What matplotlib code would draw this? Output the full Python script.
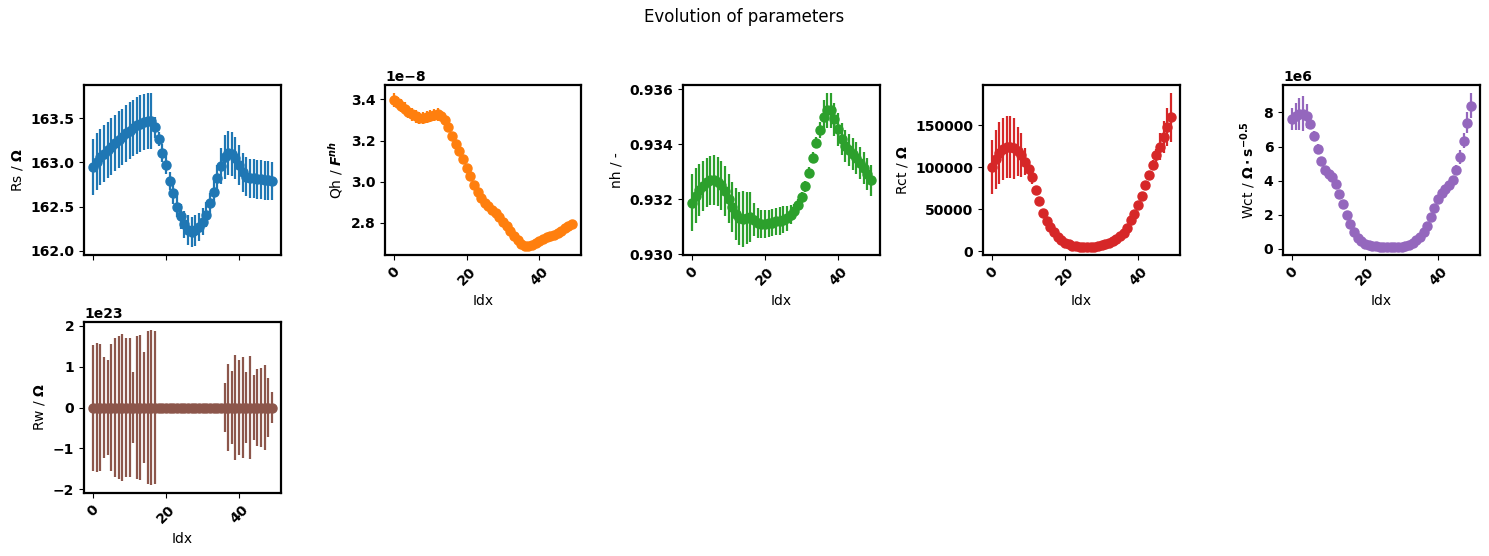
import numpy as np
import matplotlib
matplotlib.use("Agg")
import matplotlib.pyplot as plt

idx = list(range(50))

rs = [162.95, 163.01, 163.06, 163.10, 163.14, 163.18, 163.22, 163.26, 163.29, 163.33,
      163.36, 163.39, 163.42, 163.44, 163.46, 163.47, 163.47, 163.40, 163.27, 163.11,
      162.97, 162.79, 162.65, 162.50, 162.39, 162.30, 162.24, 162.21, 162.23, 162.27,
      162.33, 162.41, 162.54, 162.67, 162.82, 162.96, 163.06, 163.11, 163.10, 163.05,
      162.97, 162.89, 162.84, 162.82, 162.82, 162.81, 162.81, 162.80, 162.80, 162.79]
rs_err = [0.32, 0.32, 0.32, 0.32, 0.32, 0.32, 0.32, 0.32, 0.32, 0.32,
          0.32, 0.32, 0.32, 0.32, 0.32, 0.32, 0.32, 0.12, 0.08, 0.10,
          0.10, 0.10, 0.12, 0.12, 0.14, 0.15, 0.17, 0.17, 0.17, 0.16,
          0.15, 0.14, 0.12, 0.12, 0.15, 0.20, 0.25, 0.25, 0.25, 0.24,
          0.23, 0.22, 0.22, 0.22, 0.22, 0.22, 0.22, 0.22, 0.22, 0.22]

qh = [3.397, 3.383, 3.370, 3.355, 3.340, 3.327, 3.317, 3.310, 3.310, 3.315,
      3.320, 3.325, 3.327, 3.320, 3.300, 3.267, 3.222, 3.183, 3.147, 3.110,
      3.067, 3.027, 2.985, 2.950, 2.922, 2.897, 2.880, 2.863, 2.847, 2.827,
      2.805, 2.783, 2.760, 2.737, 2.717, 2.700, 2.690, 2.687, 2.693, 2.703,
      2.713, 2.723, 2.733, 2.738, 2.743, 2.752, 2.763, 2.775, 2.787, 2.797]
qh_err = [0.035, 0.03, 0.03, 0.03, 0.03, 0.03, 0.03, 0.03, 0.03, 0.03,
          0.03, 0.03, 0.03, 0.025, 0.015, 0.006, 0.005, 0.005, 0.005, 0.005,
          0.005, 0.005, 0.005, 0.005, 0.005, 0.005, 0.005, 0.005, 0.005, 0.005,
          0.005, 0.005, 0.005, 0.005, 0.005, 0.005, 0.005, 0.005, 0.005, 0.005,
          0.005, 0.005, 0.005, 0.005, 0.005, 0.005, 0.005, 0.005, 0.005, 0.005]

nh = [0.93188, 0.93212, 0.93233, 0.93248, 0.93261, 0.93269, 0.93270, 0.93264, 0.93251, 0.93230,
      0.93202, 0.93172, 0.93145, 0.93130, 0.93127, 0.93133, 0.93136, 0.93125, 0.93113, 0.93109,
      0.93109, 0.93112, 0.93115, 0.93119, 0.93121, 0.93126, 0.93131, 0.93143, 0.93158, 0.93180,
      0.93208, 0.93248, 0.93297, 0.93352, 0.93406, 0.93452, 0.93501, 0.93524, 0.93524, 0.93491,
      0.93455, 0.93418, 0.93394, 0.93378, 0.93364, 0.93349, 0.93331, 0.93315, 0.93293, 0.93269]
nh_err = [0.00105, 0.00100, 0.00095, 0.00092, 0.00090, 0.00090, 0.00090, 0.00090, 0.00090, 0.00090,
          0.00090, 0.00092, 0.00095, 0.00098, 0.00102, 0.00095, 0.00090, 0.00060, 0.00055, 0.00050,
          0.00050, 0.00050, 0.00050, 0.00050, 0.00050, 0.00050, 0.00045, 0.00035, 0.00025, 0.00020,
          0.00020, 0.00020, 0.00020, 0.00020, 0.00020, 0.00030, 0.00060, 0.00064, 0.00064, 0.00060,
          0.00060, 0.00058, 0.00058, 0.00058, 0.00058, 0.00058, 0.00058, 0.00058, 0.00058, 0.00057]

rct = [100800, 109400, 117200, 121900, 123800, 123800, 122300, 119100, 114500, 106600,
       98400, 87900, 73000, 59800, 45700, 35900, 28500, 22700, 17600, 13700,
       10500, 8600, 7000, 6200, 5900, 5500, 5500, 5500, 5600, 6200,
       7300, 8500, 10000, 12000, 14500, 18000, 22500, 28000, 37100, 44900,
       54700, 65600, 78900, 91000, 102300, 114100, 124200, 135500, 147700, 159400]
rct_err = [32000, 35000, 37000, 37000, 37000, 37000, 36000, 29000, 26000, 16000,
           8000, 8000, 3000, 2000, 1500, 1000, 1000, 1000, 800, 800,
           600, 500, 500, 500, 500, 500, 500, 500, 500, 500,
           500, 500, 600, 700, 800, 1000, 1200, 1500, 2000, 2500,
           3000, 3500, 4000, 5000, 6000, 8000, 16000, 19000, 22000, 29000]

wct = [7.60, 7.76, 7.89, 7.93, 7.80, 7.31, 6.63, 5.85, 5.16, 4.65,
       4.39, 4.19, 3.80, 3.22, 2.63, 1.99, 1.46, 0.98, 0.64, 0.45,
       0.32, 0.24, 0.18, 0.15, 0.13, 0.12, 0.12, 0.12, 0.12, 0.13,
       0.14, 0.18, 0.25, 0.35, 0.50, 0.72, 1.00, 1.36, 1.85, 2.40,
       2.95, 3.25, 3.50, 3.75, 4.05, 4.65, 5.40, 6.35, 7.40, 8.40]
wct_err = [0.65, 0.80, 0.95, 1.00, 0.70, 0.30, 0.30, 0.28, 0.25, 0.15,
           0.10, 0.10, 0.08, 0.05, 0.05, 0.04, 0.03, 0.03, 0.02, 0.02,
           0.02, 0.02, 0.02, 0.02, 0.02, 0.02, 0.02, 0.02, 0.02, 0.02,
           0.02, 0.02, 0.02, 0.02, 0.03, 0.03, 0.04, 0.05, 0.06, 0.08,
           0.10, 0.10, 0.12, 0.15, 0.20, 0.25, 0.40, 0.45, 0.60, 0.75]

rw = [2.1e18, 1.8e18, 1.5e18, 1.2e18, 1.0e18, 1.6e18, 1.9e18, 2.0e18, 2.2e18, 2.0e18,
      1.9e18, 0.9e18, 2.0e18, 2.1e18, 1.4e18, 2.3e18, 2.4e18, 2.3e18, 1.0e15, 1.0e15,
      1.0e15, 1.0e15, 1.0e15, 1.0e15, 1.0e15, 1.0e15, 1.0e15, 1.0e15, 1.0e15, 1.0e15,
      1.0e15, 1.0e15, 1.0e15, 1.0e15, 1.0e15, 1.0e15, 0.7e18, 1.2e18, 1.0e18, 1.5e18,
      1.3e18, 1.4e18, 0.9e18, 1.4e18, 0.9e18, 1.1e18, 1.1e18, 1.2e18, 0.8e18, 0.4e18]
rw_err = [1.54, 1.58, 1.55, 1.23, 1.16, 1.55, 1.70, 1.75, 1.80, 1.70,
          1.70, 0.86, 1.74, 1.78, 1.36, 1.86, 1.90, 1.88, 0, 0,
          0, 0, 0, 0, 0, 0, 0, 0, 0, 0,
          0, 0, 0, 0, 0, 0, 0.59, 1.06, 0.90, 1.28,
          1.15, 1.24, 0.86, 1.26, 0.80, 0.94, 0.96, 1.04, 0.72, 0.39]

W, H = 1489, 556
fig = plt.figure(figsize=(W / 100, H / 100), dpi=100)

def box(x0, y0, x1, y1):
    return [x0 / W, 1 - y1 / H, (x1 - x0) / W, (y1 - y0) / H]

cols = [(84, 281), (385, 581), (683, 880), (983, 1180), (1283, 1480)]
row1 = (85, 255)
row2 = (322, 493)

# (values, errors, value scale, error scale, label, colour, position, show x labels)
panels = [
    (rs, rs_err, 1.0, 1.0, "Rs / $\\mathbf{\\Omega}$", "C0", box(cols[0][0], row1[0], cols[0][1], row1[1]), False),
    (qh, qh_err, 1e-8, 1e-8, "Qh / $\\mathbfit{F^{nh}}$", "C1", box(cols[1][0], row1[0], cols[1][1], row1[1]), True),
    (nh, nh_err, 1.0, 1.0, "nh / -", "C2", box(cols[2][0], row1[0], cols[2][1], row1[1]), True),
    (rct, rct_err, 1.0, 1.0, "Rct / $\\mathbf{\\Omega}$", "C3", box(cols[3][0], row1[0], cols[3][1], row1[1]), True),
    (wct, wct_err, 1e6, 1e6, "Wct / $\\mathbf{\\Omega \\cdot s^{-0.5}}$", "C4", box(cols[4][0], row1[0], cols[4][1], row1[1]), True),
    (rw, rw_err, 1.0, 1e23, "Rw / $\\mathbf{\\Omega}$", "C5", box(cols[0][0], row2[0], cols[0][1], row2[1]), True),
]

for vals, errs, vscale, escale, label, color, pos, show_x in panels:
    ax = fig.add_axes(pos)
    v = np.array(vals, dtype=float) * vscale
    e = np.array(errs, dtype=float) * escale
    ax.errorbar(idx, v, yerr=e, fmt="o", color=color, ms=6.5, elinewidth=1.6, capsize=0)
    ax.set_ylabel(label, fontsize=10)
    ax.set_xticks([0, 20, 40])
    for s in ax.spines.values():
        s.set_linewidth(1.6)
    for t in ax.get_yticklabels():
        t.set_fontweight("bold")
    ax.yaxis.get_offset_text().set_fontweight("bold")
    if show_x:
        ax.set_xlabel("Idx", fontsize=10)
        plt.setp(ax.get_xticklabels(), rotation=45, fontweight="bold")
    else:
        ax.tick_params(axis="x", labelbottom=False)

fig.suptitle("Evolution of parameters", fontsize=12, y=0.985)
fig.savefig("out.png", dpi=100)
